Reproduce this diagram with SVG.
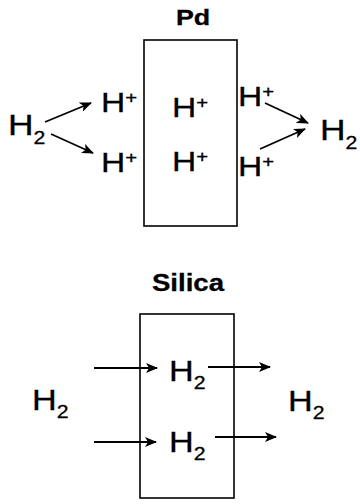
<svg xmlns="http://www.w3.org/2000/svg" width="360" height="504" viewBox="0 0 360 504">
<style>
.t{font-family:"Liberation Sans",Arial,sans-serif;fill:#000;stroke:#000;stroke-width:0.3}
.b{font-weight:bold}
.box{fill:none;stroke:#000;stroke-width:1.6}
.ar{stroke:#000;stroke-width:1.8;fill:none;marker-end:url(#ah)}
</style>
<defs>
<marker id="ah" markerUnits="userSpaceOnUse" viewBox="0 0 12 10" refX="11" refY="5" markerWidth="12" markerHeight="10" orient="auto">
<path d="M0,0 L12,5 L0,10 L3,5 z" fill="#000"/>
</marker>
</defs>
<rect width="360" height="504" fill="#fff"/>
<g id="pd">
<text class="t b" font-size="22" text-anchor="middle" transform="translate(193,25) scale(1.22,1)">Pd</text>
<rect class="box" x="144" y="40" width="93" height="186"/>
<text class="t" font-size="28" transform="translate(172,117) scale(1.2,1)">H<tspan font-size="17" dy="-9">+</tspan></text>
<text class="t" font-size="28" transform="translate(172,171) scale(1.2,1)">H<tspan font-size="17" dy="-9">+</tspan></text>
</g>
<g id="h2-in-pd">
<text class="t" font-size="30" transform="translate(8,135) scale(1.18,1)">H<tspan font-size="18" dy="9">2</tspan></text>
</g>
<g id="hplus-left">
<text class="t" font-size="28" transform="translate(101,112) scale(1.2,1)">H<tspan font-size="17" dy="-9">+</tspan></text>
<text class="t" font-size="28" transform="translate(101,172) scale(1.2,1)">H<tspan font-size="17" dy="-9">+</tspan></text>
</g>
<g id="hplus-right">
<text class="t" font-size="28" transform="translate(238,106) scale(1.2,1)">H<tspan font-size="17" dy="-9">+</tspan></text>
<text class="t" font-size="28" transform="translate(238,176) scale(1.2,1)">H<tspan font-size="17" dy="-9">+</tspan></text>
</g>
<g id="h2-out-pd">
<text class="t" font-size="30" transform="translate(320,140) scale(1.18,1)">H<tspan font-size="18" dy="9">2</tspan></text>
</g>
<g id="silica">
<text class="t b" font-size="23" text-anchor="middle" transform="translate(188,291) scale(1.2,1)">Silica</text>
<rect class="box" x="140" y="314" width="94" height="184"/>
<text class="t" font-size="29" transform="translate(169,381) scale(1.18,1)">H<tspan font-size="18" dy="8">2</tspan></text>
<text class="t" font-size="29" transform="translate(169,452) scale(1.18,1)">H<tspan font-size="18" dy="8">2</tspan></text>
</g>
<g id="h2-in-silica">
<text class="t" font-size="29" transform="translate(32,410) scale(1.18,1)">H<tspan font-size="18" dy="8">2</tspan></text>
</g>
<g id="h2-out-silica">
<text class="t" font-size="29" transform="translate(288,411) scale(1.18,1)">H<tspan font-size="18" dy="8">2</tspan></text>
</g>
<g id="connectors">
<line class="ar" x1="45" y1="122" x2="91" y2="103"/>
<line class="ar" x1="51" y1="134" x2="93" y2="153"/>
<line class="ar" x1="265" y1="103" x2="308" y2="123"/>
<line class="ar" x1="260" y1="149" x2="305" y2="129"/>
<line class="ar" x1="94" y1="368" x2="157" y2="368"/>
<line class="ar" x1="94" y1="442" x2="156" y2="442"/>
<line class="ar" x1="208" y1="367" x2="270" y2="367"/>
<line class="ar" x1="215" y1="437" x2="276" y2="437"/>
</g>
</svg>
